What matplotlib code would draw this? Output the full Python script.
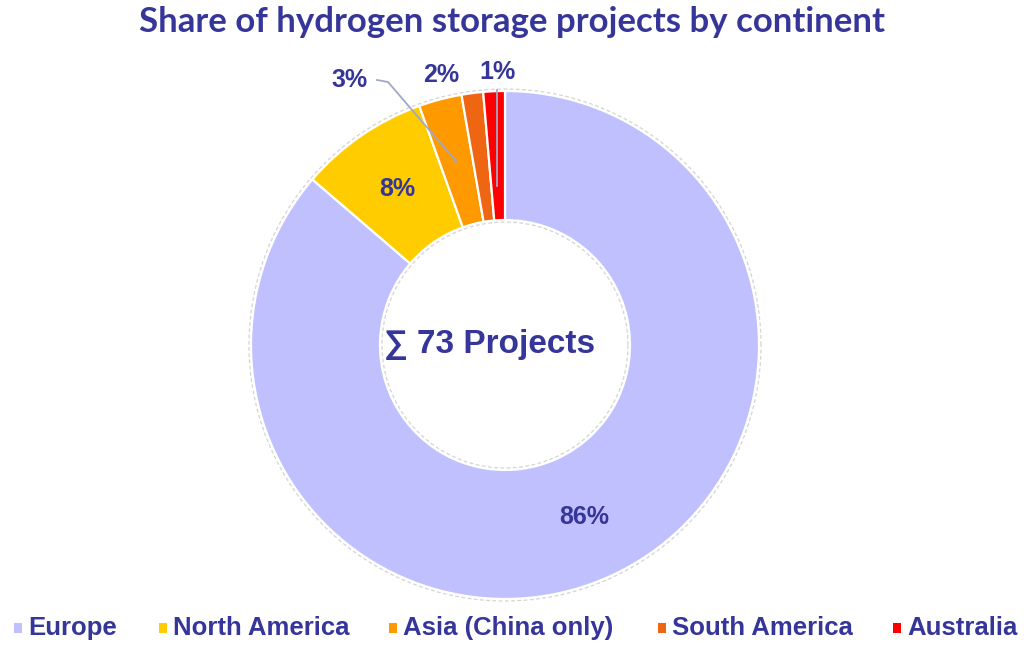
import matplotlib
matplotlib.use("Agg")
import matplotlib.pyplot as plt
import numpy as np

continents = ["Europe", "North America", "Asia (China only)", "South America", "Australia"]
projects = [63, 6, 2, 1, 1]
pct_labels = ["86%", "8%", "3%", "2%", "1%"]
colors = ["#C0C0FF", "#FFCC00", "#FF9900", "#EE6611", "#FF0000"]

navy = "#35359A"
arial = ["Liberation Sans", "DejaVu Sans"]

fig = plt.figure(figsize=(10.24, 6.62), dpi=100)
ax = fig.add_axes([0, 0, 1, 1])

cx, cy = 505, 317
r_out, r_in = 254, 125

wedges, _ = ax.pie(projects, colors=colors, startangle=90, counterclock=False,
                   center=(cx, cy), radius=r_out, frame=True,
                   wedgeprops=dict(width=r_out - r_in, edgecolor="white", linewidth=1.6))
ax.set_xlim(0, 1024)
ax.set_ylim(0, 662)
ax.set_aspect("equal")
ax.axis("off")

# thin dashed outline around the ring
t = np.linspace(0, 2 * np.pi, 400)
for r in (r_out + 2, r_in - 2):
    ax.plot(cx + r * np.cos(t), cy + r * np.sin(t), color="#d4d4d4", lw=0.9, ls=(0, (3, 2)))

r_mid = (r_out + r_in) / 2
mids = [np.deg2rad((w.theta1 + w.theta2) / 2) for w in wedges]
lab = dict(fontsize=18, fontweight="bold", color=navy, family=arial)

# inner labels for the big slices
for i in (0, 1):
    a = mids[i]
    ax.text(cx + r_mid * np.cos(a), cy + r_mid * np.sin(a), pct_labels[i],
            ha="center", va="center", **lab)

# outside labels with leader lines for the small slices
a = mids[2]
p0 = (cx + r_mid * np.cos(a), cy + r_mid * np.sin(a))
ax.plot([p0[0], 388, 377], [p0[1], 580, 582], color="#A0A8C8", lw=1.3)
ax.text(368, 582, pct_labels[2], ha="right", va="center", **lab)

ax.text(441, 587, pct_labels[3], ha="center", va="center", **lab)

a = mids[4]
x4 = cx + r_mid * np.cos(a)
ax.plot([x4, x4], [cy + r_mid - 30, 572], color="#A0A8C8", lw=1.3)
ax.text(x4 + 1, 590, pct_labels[4], ha="center", va="center", **lab)

ax.text(490, 317, "\u2211 %d Projects" % sum(projects), ha="center", va="center",
        fontsize=24, fontweight="bold", color=navy, family=arial)

fig.text(0.5, 1 - 22 / 662, "Share of hydrogen storage projects by continent",
         ha="center", va="center", fontsize=25, fontweight="bold", color=navy,
         family=["Lato", "DejaVu Sans"])

# legend
leg_x = [18, 163, 393, 662, 897]
for x, name, c in zip(leg_x, continents, colors):
    ax.add_patch(plt.Rectangle((x - 4, 662 - 633), 8, 10, color=c, lw=0))
    ax.text(x + 10, 662 - 628, name, ha="left", va="center", fontsize=18.5,
            fontweight="bold", color=navy, family=arial)

fig.savefig("out.png", dpi=100)
